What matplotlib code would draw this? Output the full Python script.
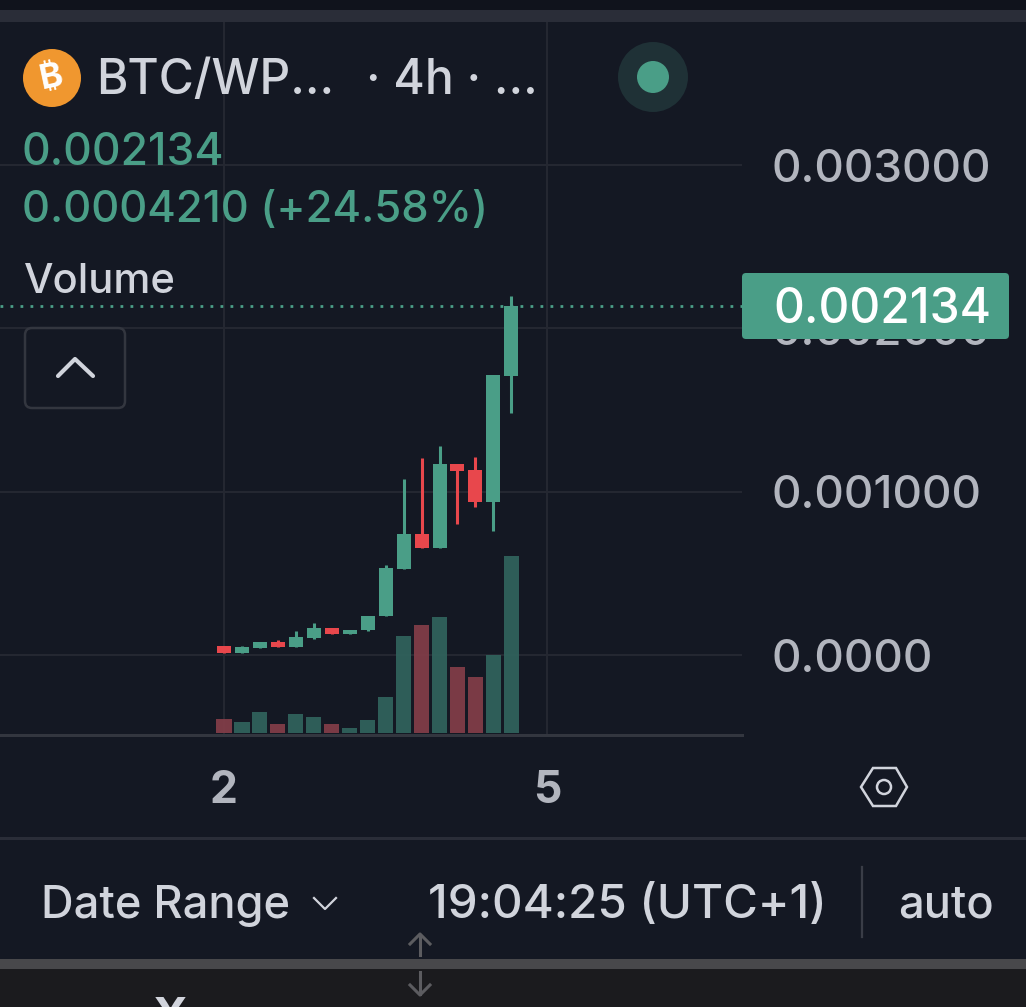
import matplotlib
matplotlib.use("Agg")
import matplotlib.pyplot as plt
from matplotlib.patches import Circle, FancyBboxPatch, Rectangle, Polygon

plt.rcParams['font.family'] = ['Inter', 'DejaVu Sans']

# ---- data (prices in BTC/WP units, volume in arbitrary units) ----
opens  = [0.000055,0.000010,0.000045,0.000082,0.000051,0.000104,0.000167,0.000131,0.000151,0.000239,0.000527,0.000743,0.000657,0.001167,0.001131,0.000937,0.001708]
closes = [0.000010,0.000047,0.000082,0.000051,0.000108,0.000167,0.000131,0.000153,0.000241,0.000531,0.000743,0.000657,0.001167,0.001129,0.000937,0.001712,0.002137]
highs  = [0.000055,0.000055,0.000082,0.000092,0.000149,0.000194,0.000167,0.000153,0.000241,0.000551,0.001080,0.001204,0.001280,0.001167,0.001214,0.001712,0.002198]
lows   = [0.000010,0.000010,0.000045,0.000051,0.000051,0.000098,0.000131,0.000127,0.000145,0.000239,0.000527,0.000657,0.000657,0.000802,0.000908,0.000757,0.001484]
volumes = [43,33,62,27,56,49,27,14,40,107,292,324,347,198,169,233,532]
last_price = 0.002134
price_ticks = [0.0, 0.001, 0.002, 0.003]
price_labels = ["0.0000", "0.001000", "0.002000", "0.003000"]
date_ticks = [0, 18]
date_labels = ["2", "5"]

BG = "#141823"; GRID = "#242731"; GREEN = "#4a9e87"; RED = "#e8474c"
TXT = "#d1d4dc"; AXT = "#b2b5be"
W, H = 1026, 1007

fig = plt.figure(figsize=(W/100, H/100), dpi=100, facecolor=BG)

def axrect(x0, y0, x1, y1):
    return [x0/W, 1-y1/H, (x1-x0)/W, (y1-y0)/H]

# main price axes: pixel box x 0-742, y 22-735
ax = fig.add_axes(axrect(0, 22, 742, 735), facecolor=BG, zorder=1)
step = 17.96
ax.set_xlim(-224/step, (742-224)/step)
ax.set_ylim(-80/163333, 633/163333)
ax.yaxis.tick_right()
ax.set_yticks(price_ticks)
ax.set_yticklabels(price_labels, fontsize=33, color=AXT, fontweight="medium")
ax.set_xticks(date_ticks)
ax.set_xticklabels(date_labels, fontsize=32, color=AXT, fontweight="bold")
ax.tick_params(axis="y", length=0, pad=21)
ax.tick_params(axis="x", length=0, pad=25)
ax.grid(True, color=GRID, lw=1.5)
ax.set_axisbelow(True)
for s in ["top", "left", "right"]:
    ax.spines[s].set_visible(False)
ax.spines["bottom"].set_color("#33363f")
ax.spines["bottom"].set_linewidth(2.2)

xs = list(range(len(opens)))
cols = [GREEN if c >= o else RED for o, c in zip(opens, closes)]
ax.vlines(xs, lows, highs, colors=cols, lw=2.2, zorder=3)
ax.bar(xs, [abs(c-o) for o, c in zip(opens, closes)],
       bottom=[min(o, c) for o, c in zip(opens, closes)],
       width=0.78, color=cols, zorder=4)
ax.axhline(last_price, color=GREEN, lw=2.0, ls=(0, (1.0, 2.6)), zorder=2)

# volume on the same pixel box, baseline at y = 733
vax = fig.add_axes(axrect(0, 22, 742, 735), zorder=2)
vax.patch.set_alpha(0)
vax.set_xlim(ax.get_xlim())
vax.set_ylim(-6, (733-22)*3)
vax.axis("off")
vol_cols = ["#30615b" if c == GREEN else "#7f3c47" for c in cols]
vax.bar(xs, volumes, width=0.84, color=vol_cols, alpha=0.96)

# UI chrome in pixel coordinates
ui = fig.add_axes([0, 0, 1, 1], zorder=5)
ui.patch.set_alpha(0)
ui.set_xlim(0, W); ui.set_ylim(H, 0); ui.axis("off")

ui.add_patch(Rectangle((0, 0), W, 10, color="#10131c", lw=0))
ui.add_patch(Rectangle((0, 10), W, 12, color="#2a2d38", lw=0))
ui.add_patch(Rectangle((0, 837), W, 3, color="#2a2d38", lw=0))
ui.add_patch(Rectangle((0, 959), W, 10, color="#48484b", lw=0))
ui.add_patch(Rectangle((0, 969), W, H-969, color="#1b1b1e", lw=0))

def T(x, y, s, size, color=TXT, ha="left", **kw):
    kw.setdefault("fontweight", "medium")
    return ui.text(x, y, s, fontsize=size, color=color, ha=ha, va="center", **kw)

# header
ui.add_patch(Circle((52, 78), 29, color="#f0972f", lw=0))
T(52, 78, "₿", 25, color="white", ha="center", rotation=12, fontweight="bold")
T(96, 81, "BTC/WP...", 34.5)
T(366, 81, "· 4h · ...", 34.5)
ui.add_patch(Circle((653, 77), 35, color="#1f3136", lw=0))
ui.add_patch(Circle((653, 77), 16, color=GREEN, lw=0))
T(22, 153, "0.002134", 32, color=GREEN)
T(22, 210, "0.0004210 (+24.58%)", 31.4, color=GREEN)
T(24, 282, "Volume", 30)

# collapse button
ui.add_patch(FancyBboxPatch((25, 328), 100, 80, boxstyle="round,pad=0,rounding_size=7",
                            fc="none", ec="#33363f", lw=1.8))
ui.plot([58, 75, 93], [376, 359, 376], color=TXT, lw=3, solid_capstyle="round", solid_joinstyle="round")

# last price tag
ui.add_patch(FancyBboxPatch((742, 273), 267, 66, boxstyle="round,pad=0,rounding_size=4",
                            fc=GREEN, ec="none"))
T(773, 310, "0.002134", 34.5, color="white")

# settings hexagon
ui.add_patch(Polygon([(861, 787), (873, 768), (896, 768), (907, 787), (896, 806), (873, 806)],
                     closed=True, fc="none", ec=TXT, lw=1.8))
ui.add_patch(Circle((884, 787), 7, fc="none", ec=TXT, lw=1.8))

# footer
T(41, 906, "Date Range", 32.5)
ui.plot([314, 325, 336], [898, 909, 898], color=TXT, lw=1.6)
T(428, 906, "19:04:25 (UTC+1)", 34.2)
ui.plot([862, 862], [867, 937], color="#3a3d47", lw=1.6)
T(898, 906, "auto", 32.5)

# resize arrows
ARW = "#5c5c60"
ui.plot([420, 420], [935, 955], color=ARW, lw=2.2)
ui.plot([410, 420, 430], [944, 934, 944], color=ARW, lw=2.2)
ui.plot([420, 420], [972, 994], color=ARW, lw=2.2)
ui.plot([410, 420, 430], [985, 995, 985], color=ARW, lw=2.2)
T(170, 1019, "X", 34, color=TXT, ha="center", fontweight="bold")

fig.savefig("out.png", dpi=100, facecolor=BG)
